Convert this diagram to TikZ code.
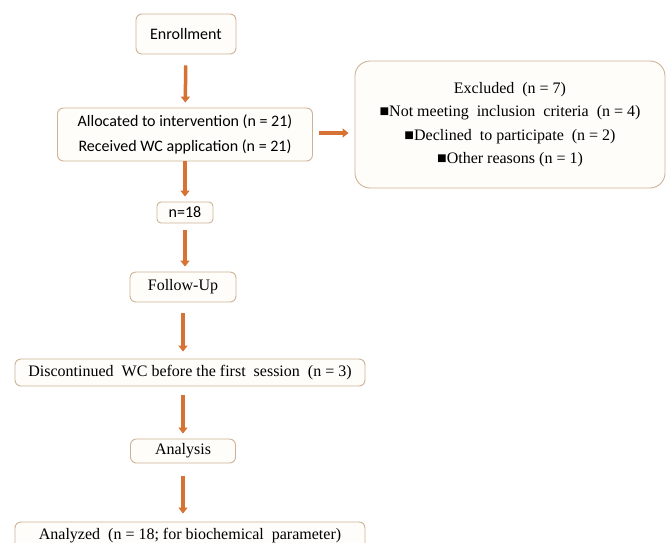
\documentclass[tikz,border=0pt]{standalone}
\usepackage{fontspec}
\setmainfont{Liberation Serif}
\newfontfamily\calfont{Carlito}
\usetikzlibrary{arrows.meta}
\definecolor{arrowor}{RGB}{214,114,52}
\definecolor{boxedge}{RGB}{206,178,150}
\definecolor{boxfill}{RGB}{255,253,250}
\begin{document}
\begin{tikzpicture}[x=1pt, y=-1pt,
  box/.style={draw=boxedge, fill=boxfill, line width=0.9pt, rounded corners=6pt,
    inner sep=0pt, align=center, font=\fontsize{16}{23.5}\selectfont},
  calbox/.style={box, font=\calfont\fontsize{16}{25}\selectfont},
  flow/.style={draw=arrowor, line width=3.5pt, -{Triangle[width=9pt,length=6pt]},
    shorten <=9pt, shorten >=5pt}]
  % Page frame
  \clip (0,0) rectangle (669,542);
  \fill[white] (0,0) rectangle (669,542);

  % Main column
  \node[calbox, minimum width=100pt, minimum height=40pt] (enroll) at (186,34) {Enrollment};
  \node[calbox, minimum width=255pt, minimum height=53pt] (alloc) at (185,134.5)
    {Allocated to intervention (n = 21)\\Received WC application (n = 21)};
  \node[calbox, minimum width=56pt, minimum height=21pt, rounded corners=4pt] (n18) at (185,212.5) {n=18};
  \node[box, minimum width=106pt, minimum height=30pt] (follow) at (183,287) {Follow-Up};
  \node[box, minimum width=350pt, minimum height=27pt] (discont) at (190,372.5)
    {Discontinued~ WC before the first~ session~ (n = 3)};
  \node[box, minimum width=105pt, minimum height=24pt] (analysis) at (183,451) {Analysis};
  \node[box, minimum width=350pt, minimum height=27pt] (analyzed) at (190,535.5)
    {Analyzed~ (n = 18; for biochemical~ parameter)};

  % Side box
  \node[box, minimum width=310pt, minimum height=127pt, rounded corners=15pt] (excl) at (510,124.5)
    {Excluded~ (n = 7)\\
     ■Not meeting~ inclusion~ criteria~ (n = 4)\\
     ■Declined~ to participate~ (n = 2)\\
     ■Other reasons (n = 1)};

  % Arrows
  \draw[flow, shorten <=11pt] (enroll) -- (alloc);
  \draw[flow, shorten <=0pt] (alloc.south) -- (alloc.south |- n18.north);
  \draw[flow, shorten <=7pt] (n18.south) -- (n18.south |- follow.north);
  \draw[flow, shorten <=11pt, shorten >=7pt] (follow.south) -- (follow.south |- discont.north);
  \draw[flow] (follow.south |- discont.south) -- (follow.south |- analysis.north);
  \draw[flow, shorten <=13pt, shorten >=8pt] (analysis.south) -- (analysis.south |- analyzed.north);
  \draw[flow, shorten <=6pt, shorten >=6pt] ([yshift=1.5pt]alloc.east) -- ([yshift=1.5pt]alloc.east -| excl.west);
\end{tikzpicture}
\end{document}
